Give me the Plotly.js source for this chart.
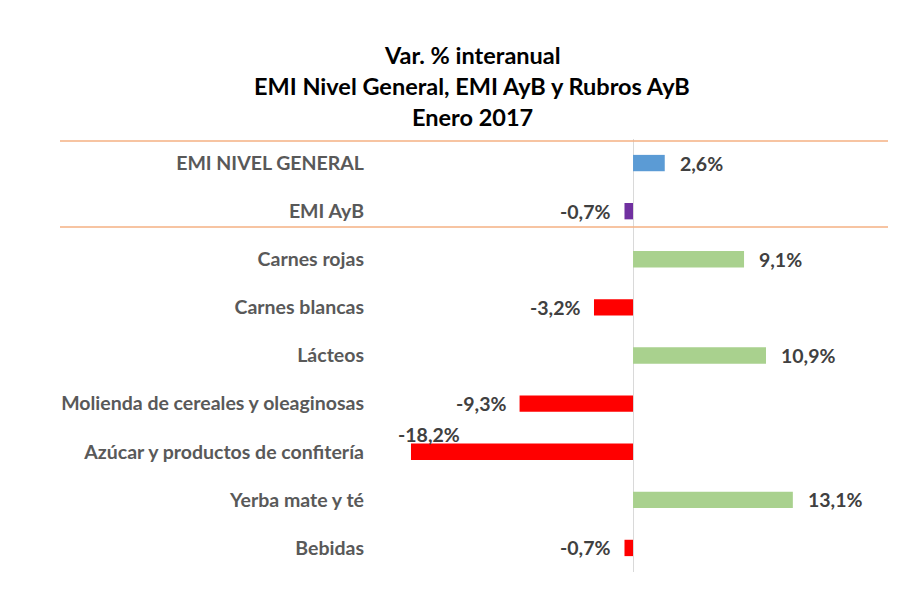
<!DOCTYPE html>
<html>
<head>
<meta charset="utf-8">
<script src="https://cdn.plot.ly/plotly-3.0.1.min.js"></script>
<style>html,body{margin:0;padding:0;background:#fff;}#chart{width:898px;height:595px;}</style>
</head>
<body>
<div id="chart"></div>
<script>
const categories = [
  "EMI NIVEL GENERAL",
  "EMI AyB",
  "Carnes rojas",
  "Carnes blancas",
  "Lácteos",
  "Molienda de cereales y oleaginosas",
  "Azúcar y productos de confitería",
  "Yerba mate y té",
  "Bebidas"
];
const values = [2.6, -0.7, 9.1, -3.2, 10.9, -9.3, -18.2, 13.1, -0.7];
const titleLines = ["Var. % interanual", "EMI Nivel General, EMI AyB y Rubros AyB", "Enero 2017"];

const FONT = "Lato, 'Open Sans', sans-serif";
const colors = values.map((v, i) => i === 0 ? "#5B9BD5" : i === 1 ? "#7030A0" : (v >= 0 ? "#A9D18E" : "#FF0000"));
const fmt = v => v.toFixed(1).replace(".", ",") + "%";

const trace = {
  type: "bar",
  orientation: "h",
  y: categories.map(c => "<b>" + c + "</b>"),
  x: values,
  marker: {color: colors},
  width: 0.34,
  hoverinfo: "x+y"
};

const annotations = values.map((v, i) => {
  const big = Math.abs(v) > 15;
  return {
    x: v, y: "<b>" + categories[i] + "</b>", xref: "x", yref: "y",
    text: "<b>" + fmt(v) + "</b>",
    showarrow: false,
    xanchor: big ? (v < 0 ? "left" : "right") : (v >= 0 ? "left" : "right"),
    xshift: big ? (v < 0 ? -15 : 15) : (v >= 0 ? 13 : -12),
    yshift: big ? 17 : 0,
    font: {family: FONT, size: 19.5, color: "#404040"}
  };
});
const titleY = [55, 86, 117];
titleLines.forEach((t, k) => {
  annotations.push({
    text: "<b>" + t + "</b>", showarrow: false,
    xref: "paper", yref: "paper",
    x: (472 - 370) / 518, y: (572 - titleY[k]) / 433,
    xanchor: "center", yanchor: "middle",
    font: {family: FONT, size: 23.5, color: "#000000"}
  });
});

const layout = {
  width: 898, height: 595,
  margin: {l: 370, r: 10, t: 139, b: 23},
  paper_bgcolor: "#ffffff", plot_bgcolor: "#ffffff",
  showlegend: false,
  xaxis: {
    range: [-21.56, 20.9],
    showgrid: false, showticklabels: false, ticks: "",
    zeroline: true, zerolinecolor: "#D9D9D9", zerolinewidth: 1,
    fixedrange: true
  },
  yaxis: {
    autorange: "reversed",
    showgrid: false, ticks: "", ticklen: 0,
    ticklabelstandoff: 5,
    tickfont: {family: FONT, size: 19.5, color: "#595959"},
    showline: false, zeroline: false,
    fixedrange: true
  },
  annotations: annotations,
  shapes: [
    {type: "line", xref: "paper", yref: "paper", x0: (60 - 370) / 518, x1: (888 - 370) / 518,
     y0: (572 - 141) / 433, y1: (572 - 141) / 433, line: {color: "#F4B183", width: 1.5}},
    {type: "line", xref: "paper", yref: "paper", x0: (60 - 370) / 518, x1: (888 - 370) / 518,
     y0: (572 - 227) / 433, y1: (572 - 227) / 433, line: {color: "#F4B183", width: 1.5}}
  ]
};

Plotly.newPlot("chart", [trace], layout, {displayModeBar: false, staticPlot: true});
</script>
</body>
</html>
